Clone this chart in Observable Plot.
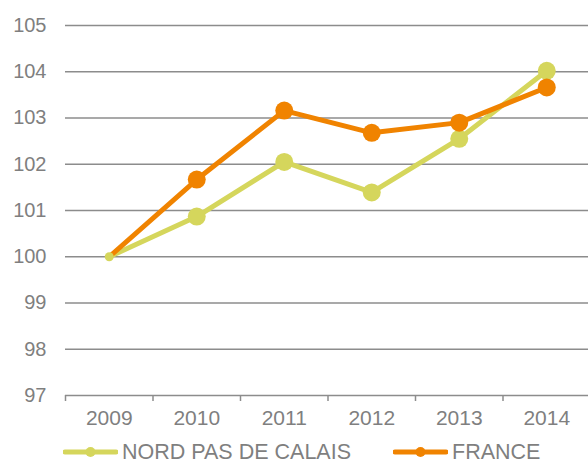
<!DOCTYPE html>
<html>
<head>
<meta charset="utf-8">
<script src="https://cdn.jsdelivr.net/npm/d3@7"></script>
<script src="https://cdn.jsdelivr.net/npm/@observablehq/plot@0.6"></script>
<style>
  html, body { margin: 0; padding: 0; background: #fff; overflow: hidden; }
  body { width: 588px; height: 465px; font-family: "Liberation Sans", Arial, sans-serif; }
  #legend { position: relative; height: 33px; color: #7f7f7f; font-size: 21.5px; line-height: 24px; }
  .item { position: absolute; top: 8px; display: flex; align-items: center; height: 24px; }
  .item svg { margin-right: 4px; }
</style>
</head>
<body>
<div id="chart"></div>
<div id="legend"></div>
<script>
const years = [2009, 2010, 2011, 2012, 2013, 2014];
const nord = [100, 100.87, 102.05, 101.39, 102.55, 104.02];
const france = [100, 101.67, 103.16, 102.68, 102.9, 103.66];
const seriesNames = ["NORD PAS DE CALAIS", "FRANCE"];
const seriesColors = ["#d5d65c", "#f08300"];
const yTicks = [97, 98, 99, 100, 101, 102, 103, 104, 105];

const nordRows = years.map((y, i) => ({year: y, value: nord[i]}));
const franceRows = years.map((y, i) => ({year: y, value: france[i]}));
const first = years[0];
const bounds = years.map(y => y - 0.5).concat([years[years.length - 1] + 0.5]);

const chart = Plot.plot({
  width: 588,
  height: 432,
  marginTop: 25,
  marginBottom: 37,
  marginLeft: 65,
  marginRight: 0,
  style: {fontFamily: "'Liberation Sans', Arial, sans-serif", fontSize: "20px", color: "#7f7f7f", overflow: "visible"},
  x: {domain: [bounds[0], bounds[bounds.length - 1]], range: [65, 590], label: null},
  y: {domain: [97, 105], label: null},
  marks: [
    Plot.ruleY(yTicks, {stroke: "#8c8c8c", strokeWidth: 1.5}),
    Plot.axisX({ticks: bounds, tickSize: 6, stroke: "#8c8c8c", strokeWidth: 1.5, text: null, label: null}),
    Plot.axisX({ticks: years, tickSize: 0, tickPadding: 15, tickFormat: d => String(d), fill: "#7f7f7f", fontSize: 21, label: null}),
    Plot.axisY({ticks: yTicks, tickSize: 0, tickPadding: 19, fill: "#7f7f7f", fontSize: 20, label: null}),
    Plot.line(nordRows, {x: "year", y: "value", stroke: seriesColors[0], strokeWidth: 5}),
    Plot.dot(nordRows.filter(d => d.year !== first), {x: "year", y: "value", r: 9, fill: seriesColors[0]}),
    Plot.line(franceRows, {x: "year", y: "value", stroke: seriesColors[1], strokeWidth: 5}),
    Plot.dot(franceRows.filter(d => d.year !== first), {x: "year", y: "value", r: 9, fill: seriesColors[1]}),
    Plot.dot(nordRows.filter(d => d.year === first), {x: "year", y: "value", r: 4.5, fill: seriesColors[0]})
  ]
});
document.getElementById("chart").appendChild(chart);

const legend = document.getElementById("legend");
const lefts = [63, 393];
seriesNames.forEach((name, i) => {
  const item = document.createElement("div");
  item.className = "item";
  item.style.left = lefts[i] + "px";
  item.innerHTML = `<svg width="55" height="12"><line x1="2" y1="6" x2="53" y2="6" stroke="${seriesColors[i]}" stroke-width="5" stroke-linecap="round"/><circle cx="27.5" cy="6" r="5" fill="${seriesColors[i]}"/></svg><span>${name}</span>`;
  legend.appendChild(item);
});
</script>
</body>
</html>
